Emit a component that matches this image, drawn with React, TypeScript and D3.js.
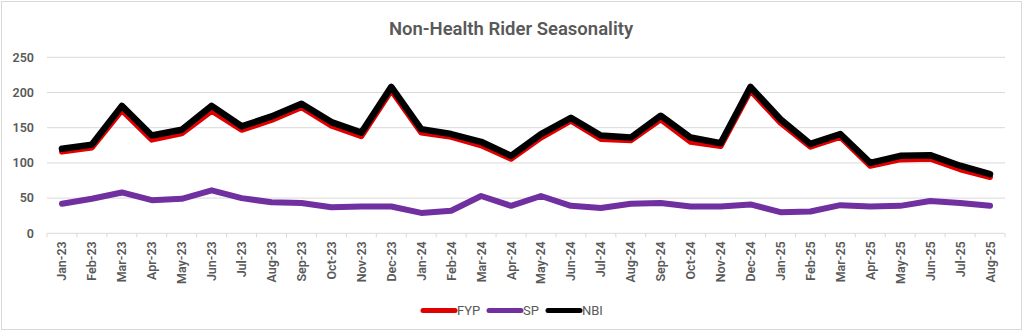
import React from "react";
import * as d3 from "d3";

const months = [
  "Jan-23","Feb-23","Mar-23","Apr-23","May-23","Jun-23","Jul-23","Aug-23","Sep-23","Oct-23","Nov-23","Dec-23",
  "Jan-24","Feb-24","Mar-24","Apr-24","May-24","Jun-24","Jul-24","Aug-24","Sep-24","Oct-24","Nov-24","Dec-24",
  "Jan-25","Feb-25","Mar-25","Apr-25","May-25","Jun-25","Jul-25","Aug-25",
];
const fyp = [116,122,175,133,142,174,147,161,179,153,138,203,143,137,125,106,136,160,134,132,162,130,124,203,157,123,137,96,105,106,91,80];
const sp = [42,49,58,47,49,61,50,44,43,37,38,38,29,32,53,39,53,39,36,42,43,38,38,41,30,31,40,38,39,46,43,39];
const nbi = [120,126,181,139,147,181,152,166,184,158,143,208,148,141,130,110,141,164,139,136,167,136,128,208,162,127,141,100,110,111,96,84];
const yTicks = [0, 50, 100, 150, 200, 250];

const W = 1024, H = 335;
const left = 47, right = 1005, top = 57.3, bottom = 233.3;
const grey = "#595959";

const series = [
  { name: "FYP", values: fyp, color: "#E00000", width: 6 },
  { name: "SP", values: sp, color: "#7030A0", width: 6 },
  { name: "NBI", values: nbi, color: "#000000", width: 6.5 },
];

export default function App() {
  const x = d3.scaleBand<string>().domain(months).range([left, right]);
  const y = d3.scaleLinear().domain([0, 250]).range([bottom, top]);
  const cx = (m: string) => (x(m) as number) + x.bandwidth() / 2;
  const line = (vals: number[]) =>
    d3.line<number>().x((_, i) => cx(months[i])).y((v) => y(v)).curve(d3.curveLinear)(vals) as string;

  const legendItems = [
    { name: "FYP", color: "#E00000", x0: 423, x1: 455 },
    { name: "SP", color: "#7030A0", x0: 489, x1: 521 },
    { name: "NBI", color: "#000000", x0: 548, x1: 580 },
  ];

  return (
    <div style={{ position: "fixed", left: 0, top: 0 }}>
      <svg width={W} height={H} style={{ display: "block", fontFamily: "Roboto, 'Noto Sans', sans-serif" }}>
        <rect x={0} y={0} width={W} height={H} fill="#ffffff" />
        <rect x={1.5} y={1.5} width={1020} height={328} fill="none" stroke="#d9d9d9" strokeWidth={1} />
        <text x={511} y={35} textAnchor="middle" fontSize={18.5} fontWeight={600} fill={grey}>
          Non-Health Rider Seasonality
        </text>
        {yTicks.map((t) => (
          <g key={t}>
            {t > 0 && <line x1={left} x2={right} y1={y(t)} y2={y(t)} stroke="#d9d9d9" strokeWidth={1} />}
            <text x={34} y={y(t)} dy="0.35em" textAnchor="end" fontSize={12.5} fontWeight={600} fill={grey}>
              {t}
            </text>
          </g>
        ))}
        <line x1={left} x2={right} y1={bottom} y2={bottom} stroke="#d9d9d9" strokeWidth={1} />
        {months.map((m) => (
          <line key={"tk" + m} x1={x(m) as number} x2={x(m) as number} y1={bottom} y2={bottom + 4} stroke="#d9d9d9" />
        ))}
        <line x1={right} x2={right} y1={bottom} y2={bottom + 4} stroke="#d9d9d9" />
        {months.map((m) => (
          <text
            key={m}
            transform={`translate(${cx(m) + 4.5},${bottom + 8}) rotate(-90)`}
            textAnchor="end"
            fontSize={12.5}
            fontWeight={600}
            fill={grey}
          >
            {m}
          </text>
        ))}
        {series.map((s) => (
          <path
            key={s.name}
            d={line(s.values)}
            fill="none"
            stroke={s.color}
            strokeWidth={s.width}
            strokeLinejoin="round"
            strokeLinecap="round"
          />
        ))}
        {legendItems.map((l) => (
          <g key={l.name}>
            <line x1={l.x0} x2={l.x1} y1={310.5} y2={310.5} stroke={l.color} strokeWidth={5} strokeLinecap="round" />
            <text x={l.x1 + 2} y={310.5} dy="0.35em" fontSize={13} fill={grey}>
              {l.name}
            </text>
          </g>
        ))}
      </svg>
    </div>
  );
}
